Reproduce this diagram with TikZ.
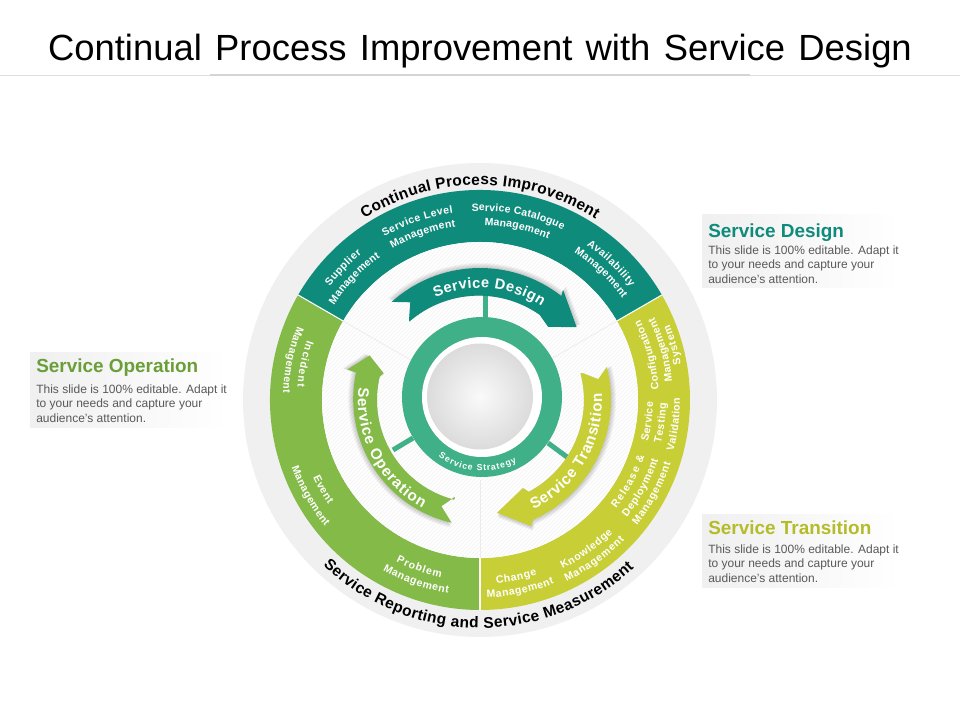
\documentclass[tikz,border=0pt]{standalone}
\usepackage{fontspec}
\setmainfont{Liberation Sans}
\usetikzlibrary{decorations.text}
\definecolor{cteal}{HTML}{0E8B7B}
\definecolor{cgreen}{HTML}{84BB48}
\definecolor{cyell}{HTML}{C8CF36}
\definecolor{cring}{HTML}{3FB088}
\definecolor{cgray}{HTML}{F0F0F1}
\definecolor{cbody}{HTML}{595959}
\definecolor{ctgreen}{HTML}{6A9F38}
\definecolor{ctyell}{HTML}{B4BC2A}
\newcommand\flab{\fontsize{7.9}{9}\selectfont\bfseries\color{white}}
\newcommand\farr{\fontsize{11.4}{14}\selectfont\bfseries\color{white}}
\newcommand\fard{\fontsize{11}{14}\selectfont\bfseries\color{white}}
\newcommand\fstr{\fontsize{6.6}{8}\selectfont\bfseries\color{white}}
\newcommand\frim{\fontsize{11.6}{13}\selectfont\bfseries\color{black}}
% radius, start angle, end angle, format, text
\newcommand\arclab[5]{\path[decorate,decoration={text along path,text align={fit to path},text={|#4|#5}}] (#2:#1) arc[start angle=#2,end angle=#3,radius=#1];}
\newcommand\sectorfill[3]{\fill[#3] (#1:210) arc[start angle=#1,end angle=#2,radius=210] -- (#2:158) arc[start angle=#2,end angle=#1,radius=158] -- cycle;}
\newcommand\arrD[1]{(132:{132+#1}) arc[start angle=132,end angle=52,radius={132+#1}] -- (53:{138+#1}) -- (37:{121+#1}) -- (47:100) -- (55:104) arc[start angle=55,end angle=131,radius=106] -- (131:108) -- (125.5:120) -- cycle}
\newcommand\arrT[1]{(14.6:{131+#1}) arc[start angle=14.6,end angle=-66,radius={131+#1}] -- (-68:{136+#1}) -- (-81.4:{114+#1}) -- (-64:98) -- (-62:104) arc[start angle=-62,end angle=14.7,radius=104] -- (14.7:106) -- (10:120) -- cycle}
\newcommand\arrO[1]{(257:{126+#1}) arc[start angle=257,end angle=168,radius={127+#1}] -- (167:{136+#1}) -- (158:{119+#1}) -- (164.5:100) -- (167:103) arc[start angle=167,end angle=255.5,radius=103] -- (255.5:100) -- (250:113) -- cycle}
\tikzset{
  x=0.75pt,y=0.75pt,
  spoke/.style={draw=cring,line width=3.75pt},
  sepline/.style={draw=white,line width=0.8pt},
  faint/.style={draw=black!8,line width=0.5pt},
  boxt/.style={anchor=west,inner sep=0pt,font=\fontsize{14.2}{16}\selectfont\bfseries},
  boxb/.style={anchor=north west,inner sep=0pt,align=left,text=cbody,font=\fontsize{9}{10.9}\selectfont},
}
\begin{document}
\begin{tikzpicture}
\useasboundingbox (-480,-320) rectangle (480,400);
\fill[white] (-480,-320) rectangle (480,400);
% title
\node[inner sep=0pt,font=\fontsize{27.3}{30}\selectfont] (title) at (0,349) {\spaceskip=10pt Continual Process Improvement with Service Design};
\draw[draw=black!13,line width=0.6pt] (-480,325) -- (480,325);
\draw[draw=black!17,line width=0.9pt] (-270,325) -- (270,325);
% outer ring
\fill[cgray] (0,0) circle[radius=237];
\sectorfill{30}{150}{cteal}
\sectorfill{150}{270}{cgreen}
\sectorfill{270}{390}{cyell}
\draw[sepline] (30:158) -- (30:210);
\draw[sepline] (150:158) -- (150:210);
\draw[sepline] (270:158) -- (270:210);
% interior
\fill[white] (0,0) circle[radius=158];
\begin{scope}
\clip (0,0) circle[radius=158];
\foreach \k in {-230,-226,...,230} {\draw[draw=black!5,line width=0.35pt] (\k-160,-160) -- (\k+160,160);}
\end{scope}
\draw[faint] (30:158) -- (30:80);
\draw[faint] (150:158) -- (150:80);
\draw[faint] (270:158) -- (270:80);
% spokes
\draw[spoke] (5,83) -- (5,105);
\draw[spoke] (68,-43) -- (87,-57);
\draw[spoke] (-67,-38) -- (-87,-50);
% hub
\fill[cring] (2,3) circle[radius=80];
\fill[white] (2,3) circle[radius=60];
\shade[inner color=black!2,outer color=black!14] (0,3.5) circle[radius=53];
% arrows
\foreach \d in {1,2,...,5} {
  \fill[black,opacity=0.04] \arrD{\d};
  \fill[black,opacity=0.04] \arrT{\d};
  \fill[black,opacity=0.04] \arrO{\d};
}
\fill[cteal] \arrD{0};
\fill[cyell] \arrT{0};
\fill[cgreen] \arrO{0};
\arclab{112}{113.5}{56.5}{\fard}{Service Design}
\arclab{122}{-64}{3}{\farr}{Service Transition}
\arclab{122}{174}{242}{\farr}{Service Operation}
\begin{scope}[shift={(2,3)}]
\arclab{74}{234}{298}{\fstr}{Service Strategy}
\end{scope}
% rim texts
\arclab{215}{122.5}{57.5}{\frim}{Continual Process Improvement}
\arclab{228}{226.5}{312.5}{\frim}{Service Reporting and Service Measurement}
% teal labels
\arclab{188}{143}{129}{\flab}{Supplier}
\arclab{174}{147}{125}{\flab}{Management}
\arclab{189}{120.4}{98.2}{\flab}{Service Level}
\arclab{175}{120}{98}{\flab}{Management}
\arclab{189}{92.5}{64}{\flab}{Service Catalogue}
\arclab{175}{88.5}{67}{\flab}{Management}
\arclab{188}{55.5}{37}{\flab}{Availability}
\arclab{175}{57.5}{35.5}{\flab}{Management}
% yellow labels
\arclab{179}{3.5}{26.5}{\flab}{Configuration}
\arclab{193}{5.4}{25.5}{\flab}{Management}
\arclab{204}{10}{21.6}{\flab}{System}
\arclab{173}{-14}{-0.6}{\flab}{Service}
\arclab{186}{-13.6}{-0.8}{\flab}{Testing}
\arclab{200}{-14.9}{0.6}{\flab}{Validation}
\arclab{174}{-38.5}{-19}{\flab}{Release {\&}}
\arclab{188}{-38.6}{-18.6}{\flab}{Deployment}
\arclab{201}{-38.6}{-18.3}{\flab}{Management}
\arclab{188}{-63.9}{-45}{\flab}{Knowledge}
\arclab{201}{-64.5}{-44}{\flab}{Management}
\arclab{184}{-84.9}{-72}{\flab}{Change}
\arclab{198}{-88}{-68}{\flab}{Management}
% green labels
\arclab{183}{160.9}{175.8}{\flab}{Incident}
\arclab{197}{158}{178}{\flab}{Management}
\arclab{184}{204.9}{214.5}{\flab}{Event}
\arclab{200}{199.7}{219.2}{\flab}{Management}
\arclab{182}{242.6}{257.6}{\flab}{Problem}
\arclab{196}{240.3}{260.7}{\flab}{Management}
% side boxes
\shade[left color=black!6,right color=white] (222,185) rectangle (420,112);
\node[boxt,text=cteal] (td) at (228,167) {Service Design};
\node[boxb] (bd) at (228,154.5) {This slide is 100\% editable. Adapt it\\to your needs and capture your\\audience's attention.};
\shade[left color=black!6,right color=white] (222,-115) rectangle (420,-188);
\node[boxt,text=ctyell] (tt) at (228,-128) {Service Transition};
\node[boxb] (bt) at (228,-144.5) {This slide is 100\% editable. Adapt it\\to your needs and capture your\\audience's attention.};
\shade[left color=black!6,right color=white] (-450,47) rectangle (-252,-28);
\node[boxt,text=ctgreen] (to) at (-444,32) {Service Operation};
\node[boxb] (bo) at (-444,15.5) {This slide is 100\% editable. Adapt it\\to your needs and capture your\\audience's attention.};
\end{tikzpicture}
\end{document}
